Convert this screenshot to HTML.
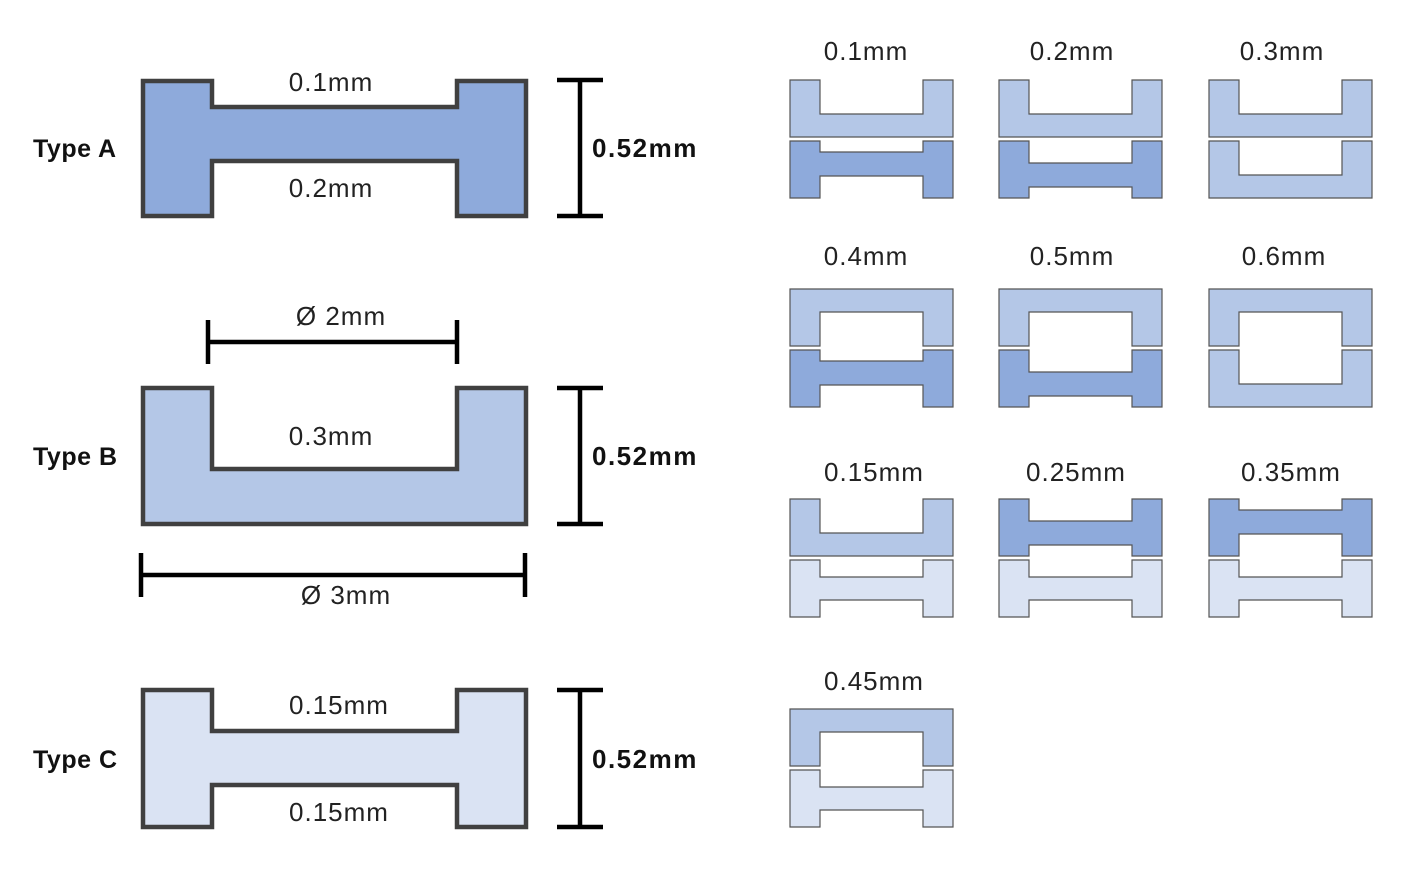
<!DOCTYPE html>
<html><head><meta charset="utf-8"><style>
html,body{margin:0;padding:0;background:#fff;}
svg{display:block;}
text{font-family:"Liberation Sans",Calibri,sans-serif;}
</style></head><body>
<svg id="s" width="1409" height="895" viewBox="0 0 1409 895" xmlns="http://www.w3.org/2000/svg">
<rect width="1409" height="895" fill="#fff"/>
<g font-size="25" fill="#111" letter-spacing="0.5">
<text x="33" y="157" font-weight="bold">Type A</text>
<text x="33" y="465" font-weight="bold">Type B</text>
<text x="33" y="768" font-weight="bold">Type C</text>
</g>
<g stroke="#000" stroke-width="4.5" fill="none">
<path d="M580 80V216M557 80H603M557 216H603"/>
<path d="M580 388V524M557 388H603M557 524H603"/>
<path d="M580 690V827M557 690H603M557 827H603"/>
<path d="M208 342H457M208 320V364M457 320V364"/>
<path d="M141 575H525M141 553V597M525 553V597"/>
</g>
<g font-size="26" font-weight="bold" fill="#111" letter-spacing="1.5">
<text x="592" y="157">0.52mm</text>
<text x="592" y="465">0.52mm</text>
<text x="592" y="768">0.52mm</text>
</g>
<g id="big"></g>
<g id="grid"></g>
<g font-size="26" fill="#222" text-anchor="middle" letter-spacing="1">
<text x="331" y="91">0.1mm</text>
<text x="331" y="197">0.2mm</text>
<text x="341" y="325">Ø 2mm</text>
<text x="331" y="445">0.3mm</text>
<text x="346" y="604">Ø 3mm</text>
<text x="339" y="714">0.15mm</text>
<text x="339" y="821">0.15mm</text>
<text x="866" y="60">0.1mm</text>
<text x="1072" y="60">0.2mm</text>
<text x="1282" y="60">0.3mm</text>
<text x="866" y="265">0.4mm</text>
<text x="1072" y="265">0.5mm</text>
<text x="1284" y="265">0.6mm</text>
<text x="874" y="481">0.15mm</text>
<text x="1076" y="481">0.25mm</text>
<text x="1291" y="481">0.35mm</text>
<text x="874" y="690">0.45mm</text>
</g>
</svg>
<script>
var NS="http://www.w3.org/2000/svg";
function poly(g,pts,fill,stroke,sw){var p=document.createElementNS(NS,"polygon");p.setAttribute("points",pts.map(function(a){return a.join(",")}).join(" "));p.setAttribute("fill",fill);p.setAttribute("stroke",stroke);p.setAttribute("stroke-width",sw);g.appendChild(p);}
function Uup(x,y,w,h,l,d){return [[x,y],[x+l,y],[x+l,y+d],[x+w-l,y+d],[x+w-l,y],[x+w,y],[x+w,y+h],[x,y+h]];}
function Udn(x,y,w,h,l,d){return [[x,y],[x+w,y],[x+w,y+h],[x+w-l,y+h],[x+w-l,y+h-d],[x+l,y+h-d],[x+l,y+h],[x,y+h]];}
function H(x,y,w,h,l,t,b){return [[x,y],[x+l,y],[x+l,y+t],[x+w-l,y+t],[x+w-l,y],[x+w,y],[x+w,y+h],[x+w-l,y+h],[x+w-l,y+h-b],[x+l,y+h-b],[x+l,y+h],[x,y+h]];}
var D="#8eaadb",M="#b4c7e7",L="#dae3f3";
var big=document.getElementById("big");
poly(big,H(143,81,383,135,69,26,55),D,"#404040",4.5);
poly(big,Uup(143,388,383,136,69,81),M,"#404040",4.5);
poly(big,H(143,690,383,137,69,41,42),L,"#404040",4.5);
var g=document.getElementById("grid");
var W=163,h=57,l=30,d=34,a=11,b=22,c=17;
var st="#555",sw=1.2;
poly(g,Uup(790,80,W,h,l,d),M,st,sw);poly(g,H(790,141,W,h,l,a,b),D,st,sw);
poly(g,Uup(999,80,W,h,l,d),M,st,sw);poly(g,H(999,141,W,h,l,b,a),D,st,sw);
poly(g,Uup(1209,80,W,h,l,d),M,st,sw);poly(g,Uup(1209,141,W,h,l,d),M,st,sw);
poly(g,Udn(790,289,W,h,l,d),M,st,sw);poly(g,H(790,350,W,h,l,a,b),D,st,sw);
poly(g,Udn(999,289,W,h,l,d),M,st,sw);poly(g,H(999,350,W,h,l,b,a),D,st,sw);
poly(g,Udn(1209,289,W,h,l,d),M,st,sw);poly(g,Uup(1209,350,W,h,l,d),M,st,sw);
poly(g,Uup(790,499,W,h,l,d),M,st,sw);poly(g,H(790,560,W,h,l,c,c),L,st,sw);
poly(g,H(999,499,W,h,l,b,a),D,st,sw);poly(g,H(999,560,W,h,l,c,c),L,st,sw);
poly(g,H(1209,499,W,h,l,a,b),D,st,sw);poly(g,H(1209,560,W,h,l,c,c),L,st,sw);
poly(g,Udn(790,709,W,h,l,d),M,st,sw);poly(g,H(790,770,W,h,l,c,c),L,st,sw);
</script>
</body></html>
